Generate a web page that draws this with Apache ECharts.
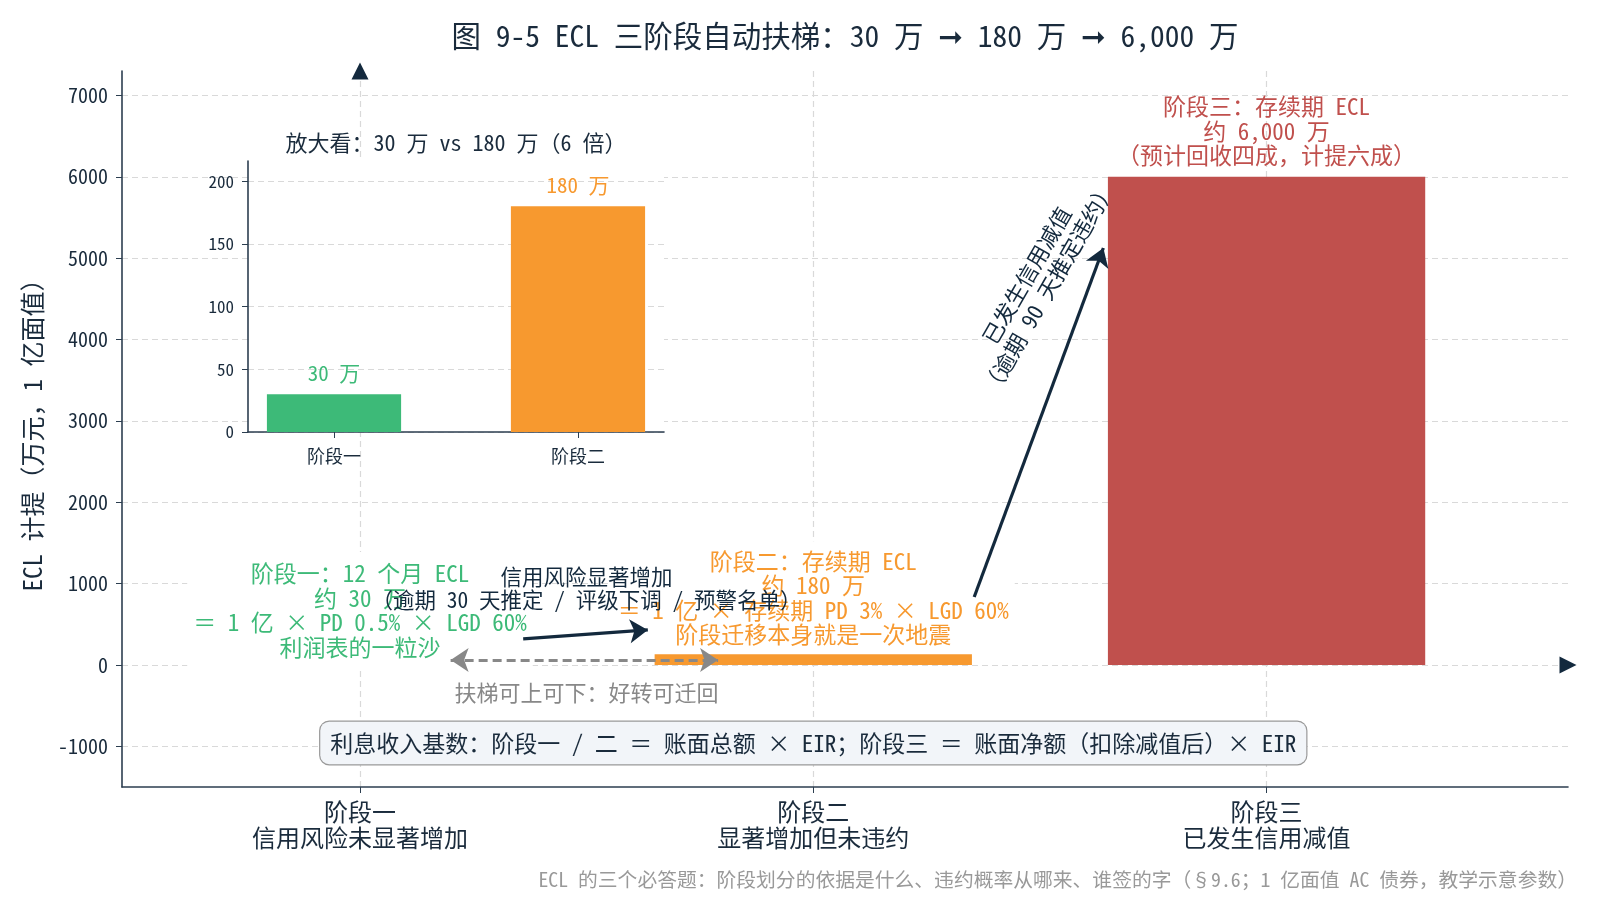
<!DOCTYPE html>
<html>
<head>
<meta charset="utf-8">
<title>ECL 三阶段</title>
<script src="https://cdn.jsdelivr.net/npm/echarts@6/dist/echarts.min.js"></script>
<style>
  html, body { margin: 0; padding: 0; background: #fff; }
  #chart { width: 1600px; height: 900px; }
</style>
</head>
<body>
<div id="chart"></div>
<script>
// ---- data ----
var stageNames = ['阶段一', '阶段二', '阶段三'];
var stageDescs = ['信用风险未显著增加', '显著增加但未违约', '已发生信用减值'];
var stagePos = [0, 1, 2];
var eclValues = [30, 180, 6000];          // 万元，1 亿面值
var stageColors = ['#3dba78', '#f7992f', '#c0504d'];
var yTicks = [-1000, 0, 1000, 2000, 3000, 4000, 5000, 6000, 7000];
var insetTicks = [0, 50, 100, 150, 200];

var FONT = "'Noto Sans Mono CJK SC', 'Noto Sans CJK SC', 'DejaVu Sans', monospace";
var NAVY = '#13293d';
var AXIS = '#2c3e50';
var GRID = '#d9d9d9';
var TEXT = '#1a2b3c';

var X_MIN = -0.525, X_MAX = 2.665, Y_MIN = -1500, Y_MAX = 7300;
var grid0 = { left: 122, right: 32, top: 71, bottom: 113 };
var grid1 = { left: 248, top: 161, width: 416, height: 271 };
var IX_MIN = -0.3525, IX_MAX = 1.3525, IY_MAX = 216;

var unit0 = (1600 - grid0.left - grid0.right) / (X_MAX - X_MIN);
var unit1 = grid1.width / (IX_MAX - IX_MIN);

var fmtWan = function(v) {
   return String(v).replace(/\B(?=(\d{3})+(?!\d))/g, ',');
};

var note = function(x, y, text, label, z) {
   return {
      type: 'scatter',
      xAxisIndex: 0, yAxisIndex: 0,
      symbolSize: 0,
      silent: true,
      z: z || 3,
      itemStyle: { opacity: 1 },
      data: [[x, y]],
      label: Object.assign({
         show: true,
         position: 'inside',
         formatter: text,
         fontFamily: FONT,
         fontSize: 23,
         lineHeight: 24.5,
         align: 'center'
      }, label)
   };
};

var arrow = function(from, to, style, symbols, z) {
   return {
      type: 'lines',
      coordinateSystem: 'cartesian2d',
      xAxisIndex: 0, yAxisIndex: 0,
      silent: true,
      z: z || 5,
      symbol: symbols || ['none', 'arrow'],
      symbolSize: 18,
      lineStyle: Object.assign({ opacity: 1 }, style),
      data: [{ coords: [from, to] }]
   };
};

var chart = echarts.init(document.getElementById('chart'));

var option = {
   animation: false,
   backgroundColor: '#fff',
   textStyle: { fontFamily: FONT },
   grid: [
      { left: grid0.left, right: grid0.right, top: grid0.top, bottom: grid0.bottom },
      { left: grid1.left, top: grid1.top, width: grid1.width, height: grid1.height,
        show: true, backgroundColor: '#fff', borderWidth: 0, z: 1 }
   ],
   xAxis: [{
      type: 'value', gridIndex: 0, min: X_MIN, max: X_MAX,
      axisLine: { onZero: false, lineStyle: { color: AXIS, width: 1.6 } },
      axisTick: { customValues: stagePos, length: 6, lineStyle: { color: AXIS } },
      axisLabel: {
         customValues: stagePos, margin: 12, color: TEXT,
         fontFamily: FONT, fontSize: 24, lineHeight: 26,
         formatter: function(v) {
            var i = stagePos.indexOf(v);
            return i < 0 ? '' : stageNames[i] + '\n' + stageDescs[i];
         }
      },
      splitLine: { show: true, lineStyle: { color: GRID, type: [6, 4], width: 1.2 } }
   }, {
      type: 'value', gridIndex: 1, min: IX_MIN, max: IX_MAX, z: 2,
      axisLine: { onZero: false, lineStyle: { color: AXIS, width: 1.6 } },
      axisTick: { customValues: [0, 1], length: 6, lineStyle: { color: AXIS } },
      axisLabel: {
         customValues: [0, 1], margin: 15, color: TEXT, fontFamily: FONT, fontSize: 18,
         formatter: function(v) { return stageNames[v] || ''; }
      },
      splitLine: { show: false }
   }],
   yAxis: [{
      type: 'value', gridIndex: 0, min: Y_MIN, max: Y_MAX,
      name: 'ECL 计提（万元，1 亿面值）',
      nameLocation: 'middle', nameGap: 77,
      nameTextStyle: { fontFamily: FONT, fontSize: 25, color: TEXT },
      axisLine: { show: true, onZero: false, lineStyle: { color: AXIS, width: 1.6 } },
      axisTick: { show: true, customValues: yTicks, length: 6, lineStyle: { color: AXIS } },
      axisLabel: {
         customValues: yTicks, margin: 14, color: TEXT, fontFamily: FONT, fontSize: 20,
         formatter: function(v) { return String(v); }
      },
      splitLine: { show: true, lineStyle: { color: GRID, type: [6, 4], width: 1.2 } }
   }, {
      type: 'value', gridIndex: 1, min: 0, max: IY_MAX, z: 2,
      axisLine: { show: true, onZero: false, lineStyle: { color: AXIS, width: 1.6 } },
      axisTick: { show: true, customValues: insetTicks, length: 6, lineStyle: { color: AXIS } },
      axisLabel: {
         customValues: insetTicks, margin: 14, color: TEXT, fontFamily: FONT, fontSize: 17,
         formatter: function(v) { return String(v); }
      },
      splitLine: { show: true, lineStyle: { color: GRID, type: [6, 4], width: 1.2 } }
   }],
   graphic: [{
      type: 'text', x: 845, y: 36, silent: true,
      style: {
         text: '图 9-5 ECL 三阶段自动扶梯：' + eclValues[0] + ' 万 ➞ ' + eclValues[1] + ' 万 ➞ ' + fmtWan(eclValues[2]) + ' 万',
         font: '29.5px ' + FONT, fill: TEXT, textAlign: 'center', textVerticalAlign: 'middle'
      }
   }, {
      type: 'text', x: 456, y: 143, silent: true, z: 10,
      style: {
         text: '放大看：' + eclValues[0] + ' 万 vs ' + eclValues[1] + ' 万（' + (eclValues[1] / eclValues[0]) + ' 倍）',
         font: '22px ' + FONT, fill: TEXT, textAlign: 'center', textVerticalAlign: 'middle'
      }
   }, {
      type: 'text', x: 1577, y: 879, silent: true,
      style: {
         text: 'ECL 的三个必答题：阶段划分的依据是什么、违约概率从哪来、谁签的字（§9.6；1 亿面值 AC 债券，教学示意参数）',
         font: '19.8px ' + FONT, fill: '#999', textAlign: 'right', textVerticalAlign: 'middle'
      }
   }],
   series: [
      {
         type: 'bar', xAxisIndex: 0, yAxisIndex: 0, z: 2,
         barWidth: 0.7 * unit0,
         data: stagePos.map(function(x, i) {
            return { value: [x, eclValues[i]], itemStyle: { color: stageColors[i] } };
         })
      },
      {
         type: 'bar', xAxisIndex: 1, yAxisIndex: 1, z: 3,
         barWidth: 0.55 * unit1,
         data: [0, 1].map(function(i) {
            return {
               value: [stagePos[i], eclValues[i]],
               itemStyle: { color: stageColors[i] },
               label: { color: stageColors[i] }
            };
         }),
         label: {
            show: true, position: 'top', distance: 11,
            fontFamily: FONT, fontSize: 21,
            formatter: function(p) { return p.value[1] + ' 万'; }
         }
      },
      // axis arrow heads
      {
         type: 'scatter', xAxisIndex: 0, yAxisIndex: 0, clip: false, silent: true, z: 6,
         symbol: 'triangle', symbolSize: 17,
         itemStyle: { color: NAVY, opacity: 1 },
         data: [
            { value: [0, Y_MAX] },
            { value: [X_MAX, 0], symbolRotate: -90 }
         ]
      },
      // annotations
      note(0, 670,
         '阶段一：12 个月 ECL\n约 ' + eclValues[0] + ' 万\n＝ 1 亿 × PD 0.5% × LGD 60%\n利润表的一粒沙',
         { color: stageColors[0], backgroundColor: '#fff', padding: [5, 6, 14, 6] }, 3),
      note(1, 827,
         '阶段二：存续期 ECL\n约 ' + eclValues[1] + ' 万\n＝ 1 亿 × 存续期 PD 3% × LGD 60%\n阶段迁移本身就是一次地震',
         { color: stageColors[1], backgroundColor: '#fff', padding: [5, 6, 10, 6] }, 3),
      note(2, 6563,
         '阶段三：存续期 ECL\n约 ' + fmtWan(eclValues[2]) + ' 万\n（预计回收四成，计提六成）',
         { color: stageColors[2] }, 3),
      note(0.5, -344, '扶梯可上可下：好转可迁回',
         { color: '#888', fontSize: 22 }, 3),
      note(1.495, 4710, '已发生信用减值\n（逾期 90 天推定违约）',
         { color: NAVY, fontSize: 22, lineHeight: 25, rotate: 60 }, 3),
      note(1, -959,
         '利息收入基数：阶段一 / 二 ＝ 账面总额 × EIR；阶段三 ＝ 账面净额（扣除减值后）× EIR',
         { color: TEXT, fontSize: 23, backgroundColor: '#f2f5f9', borderColor: '#999',
           borderWidth: 1.2, borderRadius: 9, padding: [9, 10] }, 4),
      arrow([0.2, 60], [0.79, 60], { color: '#888', width: 3, type: [9, 5] }, ['arrow', 'arrow'], 5),
      arrow([0.36, 320], [0.635, 430], { color: NAVY, width: 3.2 }, null, 5),
      arrow([1.355, 836], [1.64, 5125], { color: NAVY, width: 3.2 }, null, 5),
      note(0.5, 940,
         '信用风险显著增加\n（逾期 30 天推定 / 评级下调 / 预警名单）',
         { color: NAVY, fontSize: 21.5, lineHeight: 23.5 }, 7)
   ]
};

chart.setOption(option);
</script>
</body>
</html>
